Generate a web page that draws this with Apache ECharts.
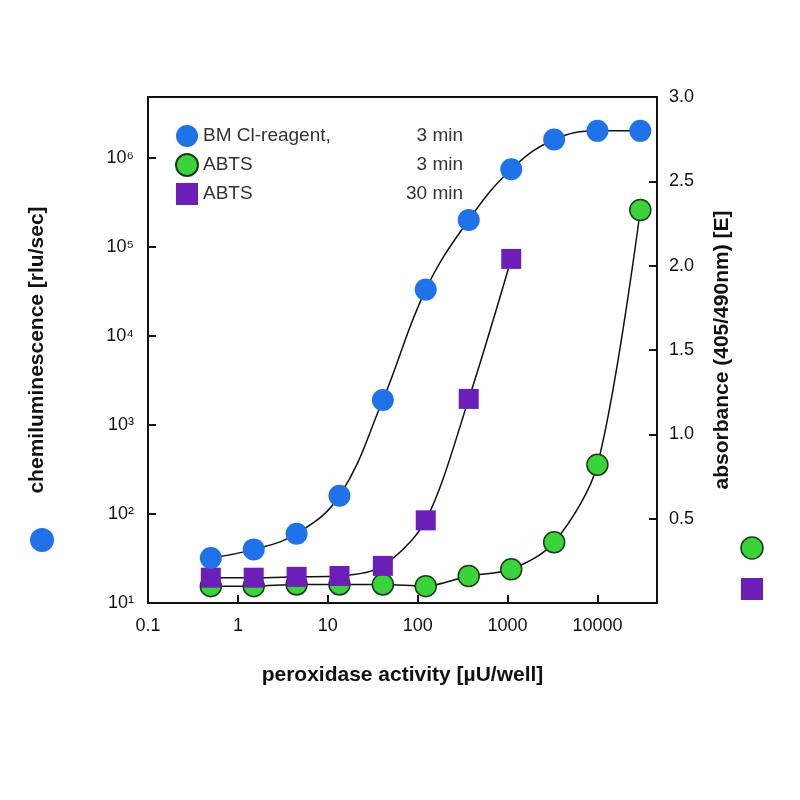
<!DOCTYPE html>
<html><head><meta charset="utf-8">
<script src="https://cdn.jsdelivr.net/npm/echarts@6/dist/echarts.min.js"></script>
<style>body{margin:0;background:#fff}#c{width:800px;height:800px}</style>
</head><body><div id="c"></div>
<script>
var activity = [0.5, 1.5, 4.5, 13.5, 41, 123, 370, 1100, 3300, 10000, 30000];
var bmCl3 = [32, 40, 60, 160, 1900, 33000, 200000, 740000, 1600000, 2000000, 2000000];
var abts3 = [0.10, 0.10, 0.11, 0.11, 0.11, 0.10, 0.16, 0.20, 0.36, 0.82, 2.33];
var abts30 = [0.15, 0.15, 0.155, 0.16, 0.22, 0.49, 1.21, 2.04];
var legendNames = ['BM Cl-reagent,|3 min', 'ABTS|3 min', 'ABTS|30 min'];

function pairs(xs, ys) { return ys.map(function (y, i) { return [xs[i], y]; }); }
var sup = {1: '¹', 2: '²', 3: '³', 4: '⁴', 5: '⁵', 6: '⁶'};
var font = 'Liberation Sans';
var tickLabel = {fontSize: 18, color: '#111', fontFamily: font};

var chart = echarts.init(document.getElementById('c'));
chart.setOption({
  textStyle: {fontFamily: font},
  grid: {left: 148, right: 143, top: 97, bottom: 197, show: true, borderColor: '#111', borderWidth: 2},
  legend: {
    left: 170, top: 120, orient: 'vertical', itemGap: 6, itemWidth: 22, itemHeight: 22,
    data: [
      {name: legendNames[0], icon: 'circle'},
      {name: legendNames[1], icon: 'circle'},
      {name: legendNames[2], icon: 'rect'}
    ],
    formatter: function (n) {
      var p = n.split('|');
      return '{a|' + p[0] + '}{b|' + p[1] + '}';
    },
    textStyle: {
      rich: {
        a: {fontSize: 19, color: '#333', width: 190, fontFamily: font},
        b: {fontSize: 19, color: '#333', width: 70, align: 'right', fontFamily: font}
      }
    }
  },
  xAxis: {
    type: 'log', min: 0.1, max: 46000, logBase: 10,
    name: 'peroxidase activity [µU/well]', nameLocation: 'middle', nameGap: 62,
    nameTextStyle: {fontSize: 21, fontWeight: 'bold', color: '#111'},
    axisLine: {lineStyle: {color: '#111', width: 2}},
    axisTick: {inside: true, length: 8, lineStyle: {width: 2, color: '#111'}},
    axisLabel: Object.assign({margin: 14,
      formatter: function (v) {
        var l = Math.log10(v);
        return Math.abs(l - Math.round(l)) < 1e-6 ? String(+v.toPrecision(3)) : '';
      }}, tickLabel),
    splitLine: {show: false}
  },
  yAxis: [{
    type: 'log', min: 10, max: 4800000, logBase: 10,
    name: 'chemiluminescence [rlu/sec]', nameLocation: 'middle', nameGap: 100, nameRotate: 90,
    nameTextStyle: {fontSize: 21, fontWeight: 'bold', color: '#111'},
    axisLine: {show: true, lineStyle: {color: '#111', width: 2}},
    axisTick: {inside: true, length: 8, lineStyle: {width: 2, color: '#111'}},
    axisLabel: Object.assign({margin: 14,
      formatter: function (v) {
        var l = Math.log10(v), r = Math.round(l);
        return Math.abs(l - r) < 1e-6 ? '10' + sup[r] : '';
      }}, tickLabel),
    splitLine: {show: false}
  }, {
    type: 'value', min: 0, max: 3, interval: 0.5,
    name: 'absorbance (405/490nm) [E]', nameLocation: 'middle', nameGap: 76, nameRotate: 90,
    nameTextStyle: {fontSize: 21, fontWeight: 'bold', color: '#111', verticalAlign: 'bottom'},
    axisLine: {show: true, lineStyle: {color: '#111', width: 2}},
    axisTick: {inside: true, length: 8, lineStyle: {width: 2, color: '#111'}},
    axisLabel: Object.assign({margin: 12,
      formatter: function (v) { return v === 0 ? '' : v.toFixed(1); }}, tickLabel),
    splitLine: {show: false}
  }],
  series: [{
    name: legendNames[0], type: 'line', yAxisIndex: 0, smooth: 0.4,
    data: pairs(activity, bmCl3), symbol: 'circle', symbolSize: 22,
    lineStyle: {color: '#111', width: 1.5},
    itemStyle: {color: '#1f72e8', borderColor: '#1f72e8', borderWidth: 0}, z: 4
  }, {
    name: legendNames[1], type: 'line', yAxisIndex: 1, smooth: 0.3,
    data: pairs(activity, abts3), symbol: 'circle', symbolSize: 21,
    lineStyle: {color: '#111', width: 1.5},
    itemStyle: {color: '#3ad43a', borderColor: '#1a3a1a', borderWidth: 1.5}, z: 2
  }, {
    name: legendNames[2], type: 'line', yAxisIndex: 1, smooth: 0.3,
    data: pairs(activity, abts30), symbol: 'rect', symbolSize: 20,
    lineStyle: {color: '#111', width: 1.5},
    itemStyle: {color: '#6b1fb8', borderWidth: 0}, z: 3
  }],
  graphic: [
    {type: 'circle', shape: {cx: 42, cy: 540, r: 12}, style: {fill: '#1f72e8'}},
    {type: 'circle', shape: {cx: 752, cy: 548, r: 11}, style: {fill: '#3ad43a', stroke: '#1a3a1a', lineWidth: 1.5}},
    {type: 'rect', shape: {x: 741, y: 578, width: 22, height: 22}, style: {fill: '#6b1fb8'}}
  ]
});
</script></body></html>
